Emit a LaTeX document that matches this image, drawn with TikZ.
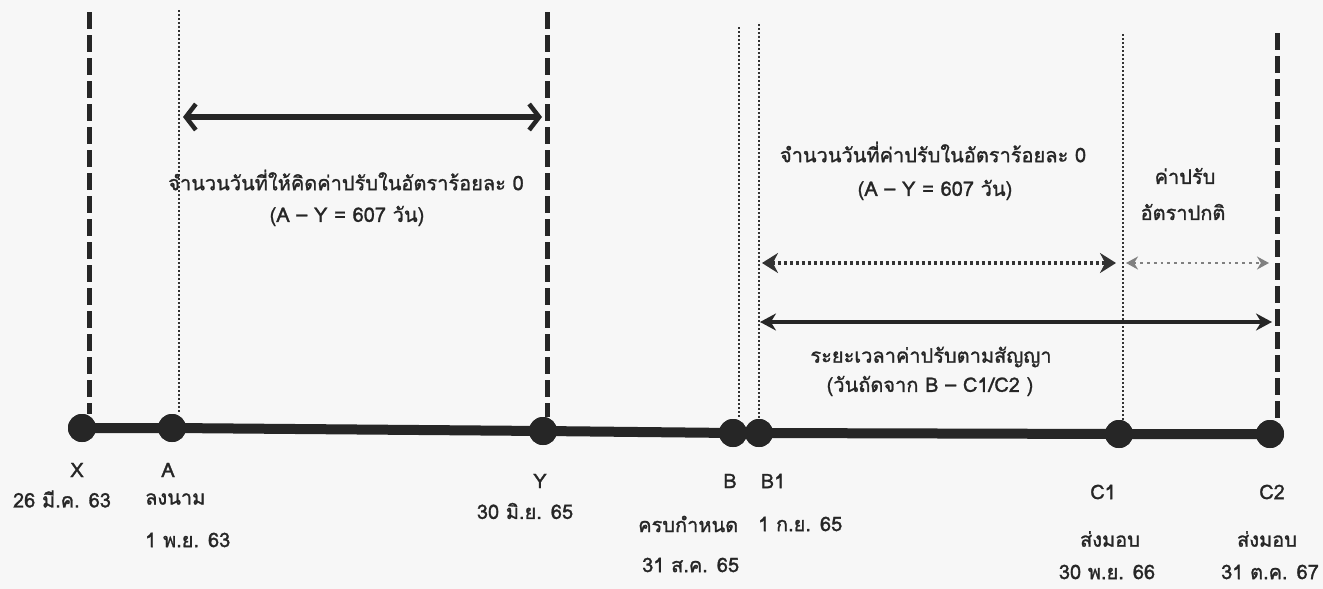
\documentclass[tikz,border=0pt]{standalone}
\usepackage{fontspec}
\setmainfont[Script=Thai,FakeBold=1.3]{Loma}
\usetikzlibrary{arrows.meta}
\begin{document}
\begin{tikzpicture}[x=1pt,y=-1pt,
  axisline/.style={line width=10pt, draw=black!85},
  tdot/.style={circle, fill=black!85, minimum size=28pt, inner sep=0pt},
  thickdash/.style={line width=5pt, dash pattern=on 17pt off 6pt, draw=black!85},
  thindot/.style={line width=2pt, dash pattern=on 2pt off 2pt, draw=black!80},
  lbl/.style={font=\fontsize{20}{24}\selectfont, inner sep=0pt, text=black!85},
  bigarrow/.style={line width=5.5pt, draw=black!85, {Straight Barb[length=10pt,width=26pt,line width=4.5pt]}-{Straight Barb[length=10pt,width=26pt,line width=4.5pt]}},
  dotarrow/.style={line width=4pt, dash pattern=on 3pt off 3pt, draw=black!80, {Stealth[length=16pt,width=20pt]}-{Stealth[length=16pt,width=20pt]}},
  greyarrow/.style={line width=2.8pt, dash pattern=on 2.8pt off 4pt, draw=black!50, {Stealth[length=12pt,width=13pt]}-{Stealth[length=12pt,width=13pt]}},
  solidarrow/.style={line width=4pt, draw=black!85, {Stealth[length=16pt,width=17pt]}-{Stealth[length=16pt,width=17pt]}}
]
\useasboundingbox[fill=black!3] (0,0) rectangle (1323,589);

% timeline dots
\node[tdot] (X) at (82,428) {};
\node[tdot] (A) at (172,428) {};
\node[tdot] (Y) at (543,431) {};
\node[tdot] (B) at (733,433) {};
\node[tdot] (B1) at (759,433) {};
\node[tdot] (C1) at (1119,434) {};
\node[tdot] (C2) at (1270,434) {};

% vertical line tops
\coordinate (tX) at (89,12);
\coordinate (tA) at (179,10);
\coordinate (tY) at (547,12);
\coordinate (tB) at (739,27);
\coordinate (tB1) at (759,24);
\coordinate (tC1) at (1123,34);
\coordinate (tC2) at (1277,33);

\draw[thickdash] (tX) -- (tX |- X.north);
\draw[thindot] (tA) -- (tA |- A.north);
\draw[thickdash] (tY) -- (tY |- Y.north);
\draw[thindot] (tB) -- (tB |- B.north);
\draw[thindot] (tB1) -- (tB1 |- B1.north);
\draw[thindot] (tC1) -- (tC1 |- C1.north);
\draw[thickdash] (tC2) -- (tC2 |- C2.north);

% axis
\draw[axisline] (X.center) -- (A.center) -- (Y.center) -- (B.center) -- (B1.center) -- (C1.center) -- (C2.center);
\foreach \n in {X,A,Y,B,B1,C1,C2} \fill[black!85] (\n) circle (14pt);

% arrows
\coordinate (a1) at (183,117);
\coordinate (a2) at (542,117);
\draw[bigarrow] (a1) -- (a2);
\coordinate (d1) at (762,263);
\coordinate (d2) at (1116,263);
\draw[dotarrow] (d1) -- (d2);
\coordinate (g1) at (1126,263);
\coordinate (g2) at (1269,263);
\draw[greyarrow] (g1) -- (g2);
\coordinate (s1) at (760,322);
\coordinate (s2) at (1272,322);
\draw[solidarrow] (s1) -- (s2);

% range labels
\node[lbl] (t1) at (346,180) {จำนวนวันที่ให้คิดค่าปรับในอัตราร้อยละ 0};
\node[lbl] (t2) at (347,216) {(A – Y = 607 วัน)};
\node[lbl] (t3) at (933,152) {จำนวนวันที่ค่าปรับในอัตราร้อยละ 0};
\node[lbl] (t4) at (935,190) {(A – Y = 607 วัน)};
\node[lbl] (t5) at (1185,176) {ค่าปรับ};
\node[lbl] (t6) at (1183,212) {อัตราปกติ};
\node[lbl] (t7) at (931,357) {ระยะเวลาค่าปรับตามสัญญา};
\node[lbl] (t8) at (930,386) {(วันถัดจาก B – C1/C2 )};

% point labels
\node[lbl] (lX) at (77,470) {X};
\node[lbl] (dX) at (62,499) {26 มี.ค. 63};
\node[lbl] (lA) at (168,470) {A};
\node[lbl, anchor=west] (nA) at (145,499) {ลงนาม};
\node[lbl, anchor=west] (dA) at (145,540) {1 พ.ย. 63};
\node[lbl] (lY) at (540,481) {Y};
\node[lbl] (dY) at (525,511) {30 มิ.ย. 65};
\node[lbl] (lB) at (730,481) {B};
\node[lbl] (lB1) at (773,481) {B1};
\node[lbl, anchor=west] (nB) at (638,524) {ครบกำหนด};
\node[lbl, anchor=west] (dB1) at (758,524) {1 ก.ย. 65};
\node[lbl, anchor=west] (dB) at (642,565) {31 ส.ค. 65};
\node[lbl] (lC1) at (1103,492) {C1};
\node[lbl] (nC1) at (1110,539) {ส่งมอบ};
\node[lbl] (dC1) at (1107,572) {30 พ.ย. 66};
\node[lbl] (lC2) at (1272,492) {C2};
\node[lbl] (nC2) at (1267,539) {ส่งมอบ};
\node[lbl] (dC2) at (1270,572) {31 ต.ค. 67};
\end{tikzpicture}
\end{document}
